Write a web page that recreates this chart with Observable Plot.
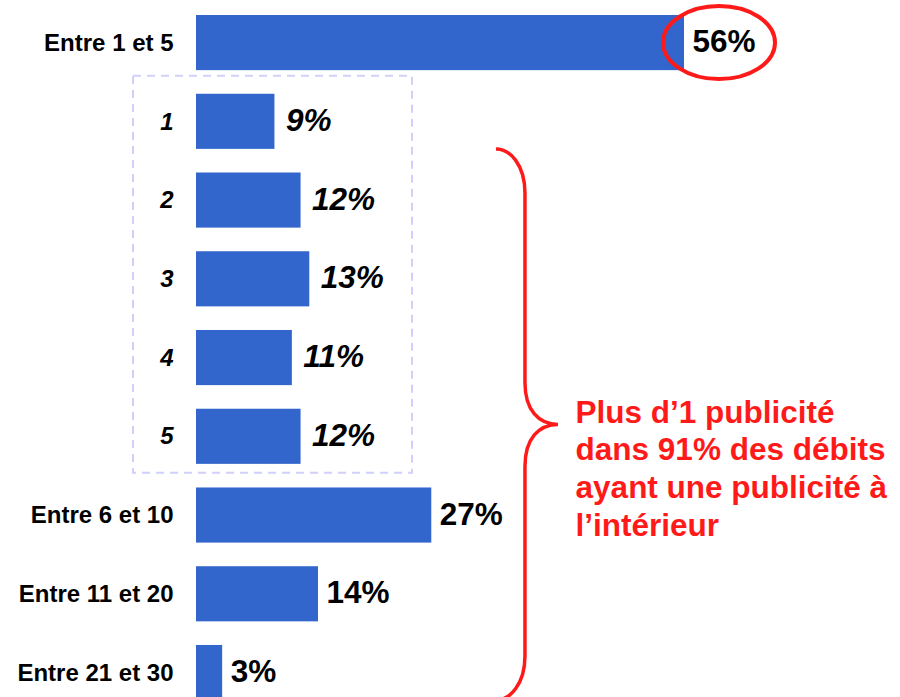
<!DOCTYPE html>
<html><head><meta charset="utf-8">
<script src="https://cdn.jsdelivr.net/npm/d3@7"></script>
<script src="https://cdn.jsdelivr.net/npm/@observablehq/plot@0.6"></script>
<style>html,body{margin:0;padding:0;background:#fff;overflow:hidden}</style>
</head><body><div id="chart"></div>
<script>
const categories = ["Entre 1 et 5","1","2","3","4","5","Entre 6 et 10","Entre 11 et 20","Entre 21 et 30"];
const values = [56,9,12,13,11,12,27,14,3];
const italicFlags = [false,true,true,true,true,true,false,false,false];
const annotationLines = ["Plus d’1 publicité","dans 91% des débits","ayant une publicité à","l’intérieur"];

const data = categories.map((c,i)=>({cat:c, value:values[i], italic:italicFlags[i], label: values[i]+"%"}));
const F = 'Arial, "Liberation Sans", Helvetica, sans-serif';
const RED = "#ff1a1a";
const plain = data.filter(d=>!d.italic), ital = data.filter(d=>d.italic);

const chart = Plot.plot({
  width:900, height:697, margin:0,
  style:{fontFamily:F, background:"#fff", overflow:"hidden"},
  x:{domain:[0,56], range:[196,684], axis:null},
  y:{domain:categories, range:[3.2,711.9], paddingInner:0.3, paddingOuter:0.15, round:false, axis:null},
  marks:[
    Plot.barX(data,{x:"value", y:"cat", fill:"#3366cc"}),
    Plot.text(plain,{x:0,y:"cat",text:"cat",textAnchor:"end",dx:-23,fontSize:24,fontWeight:"bold",fill:"#000"}),
    Plot.text(ital,{x:0,y:"cat",text:"cat",textAnchor:"end",dx:-23,fontSize:24,fontWeight:"bold",fontStyle:"italic",fill:"#000"}),
    Plot.text(plain,{x:"value",y:"cat",text:"label",textAnchor:"start",dx:8,dy:-1,fontSize:31.5,fontWeight:"bold",fill:"#000"}),
    Plot.text(ital,{x:"value",y:"cat",text:"label",textAnchor:"start",dx:11,dy:-1,fontSize:31.5,fontWeight:"bold",fontStyle:"italic",fill:"#000"}),
    Plot.text([{t:annotationLines.join("\n"), cat:"5", x:43.5}],{x:"x",y:"cat",text:"t",lineAnchor:"top",dy:-41,textAnchor:"start",fontSize:31.5,fontWeight:"bold",fill:RED,lineHeight:1.2})
  ]
});
document.getElementById("chart").appendChild(chart);

(function(){
  const xs = chart.scale("x"), ys = chart.scale("y");
  const X = v => xs.apply(v), Y = c => ys.apply(c), bw = ys.bandwidth;
  const svg = d3.select(chart);

  // dashed box around detail categories 1..5
  const bx0 = X(0) - 63, bx1 = X(0) + 216;
  const by0 = Y("1") - 18, by1 = Y("5") + bw + 9;
  svg.insert("rect", ":first-child")
    .attr("x", bx0).attr("y", by0).attr("width", bx1 - bx0).attr("height", by1 - by0)
    .attr("fill","none").attr("stroke","#d0d0fa").attr("stroke-width",2).attr("stroke-dasharray","8,6");

  // red ellipse around the top value
  svg.append("ellipse")
    .attr("cx", X(56) + 35).attr("cy", Y("Entre 1 et 5") + bw/2)
    .attr("rx", 56).attr("ry", 36.5)
    .attr("fill","none").attr("stroke",RED).attr("stroke-width",4);

  // brace from "1" bottom to last bar bottom
  const sx = X(37.75), ex = sx - 29, tx = sx + 33;
  const y0 = Y("1") + bw, y1 = Y("Entre 21 et 30") + bw, ym = (y0 + y1)/2;
  const p = `M${ex},${y0} C${ex+14},${y0} ${sx},${y0+16} ${sx},${y0+44} L${sx},${ym-42} C${sx},${ym-14} ${sx+14},${ym} ${tx},${ym} C${sx+14},${ym} ${sx},${ym+14} ${sx},${ym+42} L${sx},${y1-44} C${sx},${y1-16} ${ex+14},${y1} ${ex},${y1}`;
  svg.append("path").attr("d", p).attr("fill","none").attr("stroke",RED).attr("stroke-width",3.5);
})();
</script>
</body></html>
